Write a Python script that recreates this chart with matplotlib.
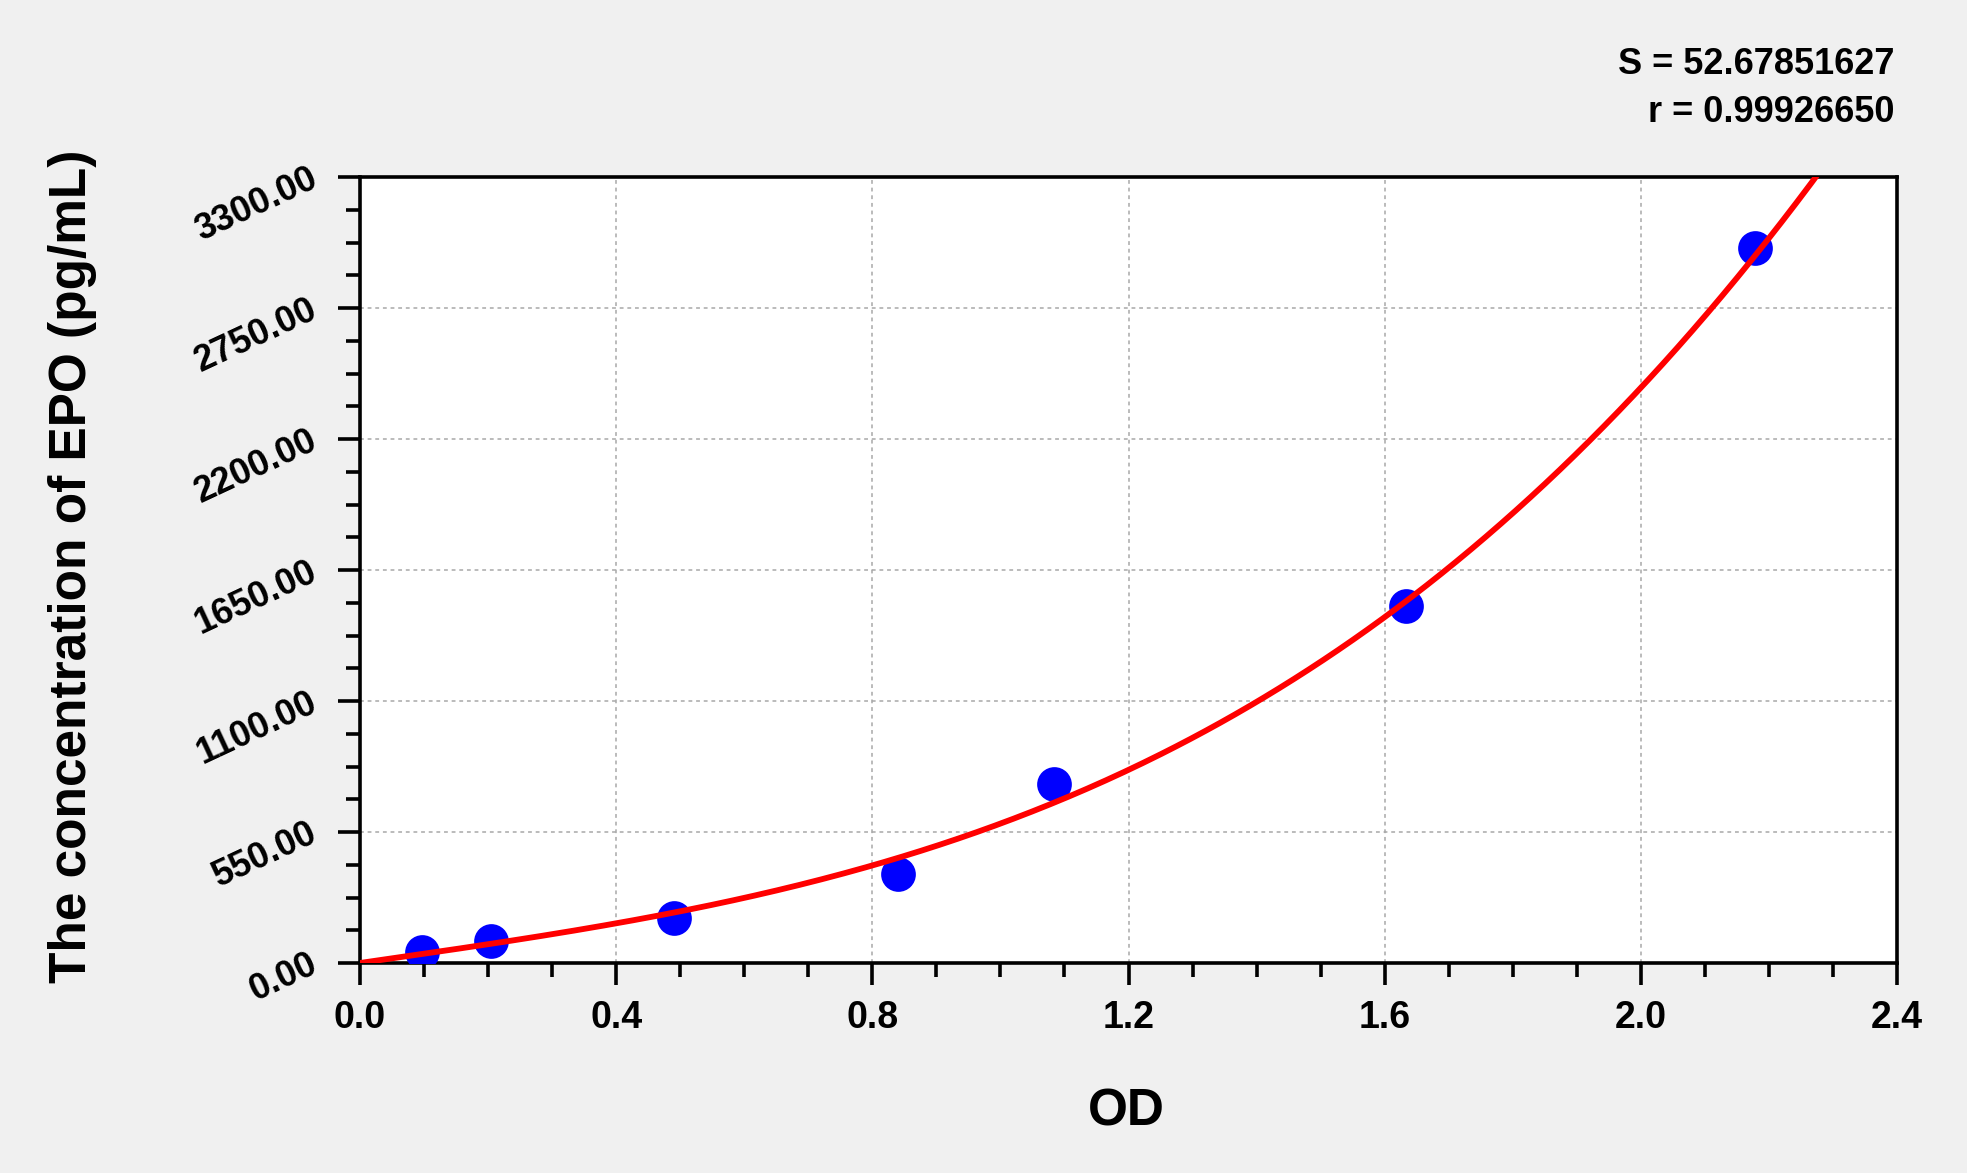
import numpy as np
import matplotlib
matplotlib.use("Agg")
import matplotlib.pyplot as plt
from matplotlib.ticker import MultipleLocator, FormatStrFormatter

# ---- data ----
od_values = [0.097, 0.205, 0.490, 0.840, 1.084, 1.634, 2.179]
conc_values = [46.88, 93.75, 187.5, 375.0, 750.0, 1500.0, 3000.0]
# fitted cubic (conc = a*OD^3 + b*OD^2 + c*OD + d)
fit_coef = [213.0, -16.7, 389.0, 0.0]
stat_S = "S = 52.67851627"
stat_r = "r = 0.99926650"
x_label = "OD"
y_label = "The concentration of EPO (pg/mL)"
x_ticks = [0.0, 0.4, 0.8, 1.2, 1.6, 2.0, 2.4]
y_ticks = [0.0, 550.0, 1100.0, 1650.0, 2200.0, 2750.0, 3300.0]

plt.rcParams['font.family'] = ['Liberation Sans', 'DejaVu Sans']
plt.rcParams['font.weight'] = 'bold'

fig = plt.figure(figsize=(19.67, 11.73), dpi=100, facecolor='#f0f0f0')
ax = fig.add_axes([360/1967, 1-963/1173, 1537/1967, 786/1173])
ax.set_facecolor('white')

xs = np.linspace(0, 2.30, 400)
ys = np.polyval(fit_coef, xs)
ax.plot(xs, ys, color='#ff0000', lw=4.2, zorder=4, solid_capstyle='round')
ax.plot(od_values, conc_values, 'o', color='#0000ff', markersize=25,
        markeredgewidth=0, zorder=3)

ax.set_xlim(0, 2.4)
ax.set_ylim(0, 3300)
ax.xaxis.set_minor_locator(MultipleLocator(0.1))
ax.yaxis.set_minor_locator(MultipleLocator(137.5))
ax.set_xticks(x_ticks)
ax.set_yticks(y_ticks)
ax.xaxis.set_major_formatter(FormatStrFormatter('%.1f'))
ax.yaxis.set_major_formatter(FormatStrFormatter('%.2f'))

ax.grid(True, which='major', color='#a8a8a8', linestyle=(0, (2.5, 2.5)), lw=1.1, zorder=1)

for s in ax.spines.values():
    s.set_linewidth(2.6)
    s.set_color('black')

ax.tick_params(axis='both', which='major', direction='out', length=16, width=2.6, color='black')
ax.tick_params(axis='both', which='minor', direction='out', length=10, width=2.6, color='black')
ax.tick_params(axis='x', which='major', labelsize=27, pad=11)
ax.tick_params(axis='y', which='major', labelsize=26, pad=16)
for lab in ax.get_xticklabels():
    lab.set_fontweight('bold')
for lab in ax.get_yticklabels():
    lab.set_fontweight('bold')
    lab.set_rotation(25)
    lab.set_ha('right')
    lab.set_va('center')
    lab.set_rotation_mode('anchor')

fig.text(1126/1967, 1-1112/1173, x_label, ha='center', va='center', fontsize=37, fontweight='bold')
fig.text(0.037, 0.517, y_label, ha='center', va='center', rotation=90, fontsize=37, fontweight='bold')
fig.text(1894/1967, 1-64.5/1173, stat_S, ha='right', va='center', fontsize=26, fontweight='bold')
fig.text(1894/1967, 1-113/1173, stat_r, ha='right', va='center', fontsize=26, fontweight='bold')

fig.savefig('out.png', dpi=100, facecolor=fig.get_facecolor())
